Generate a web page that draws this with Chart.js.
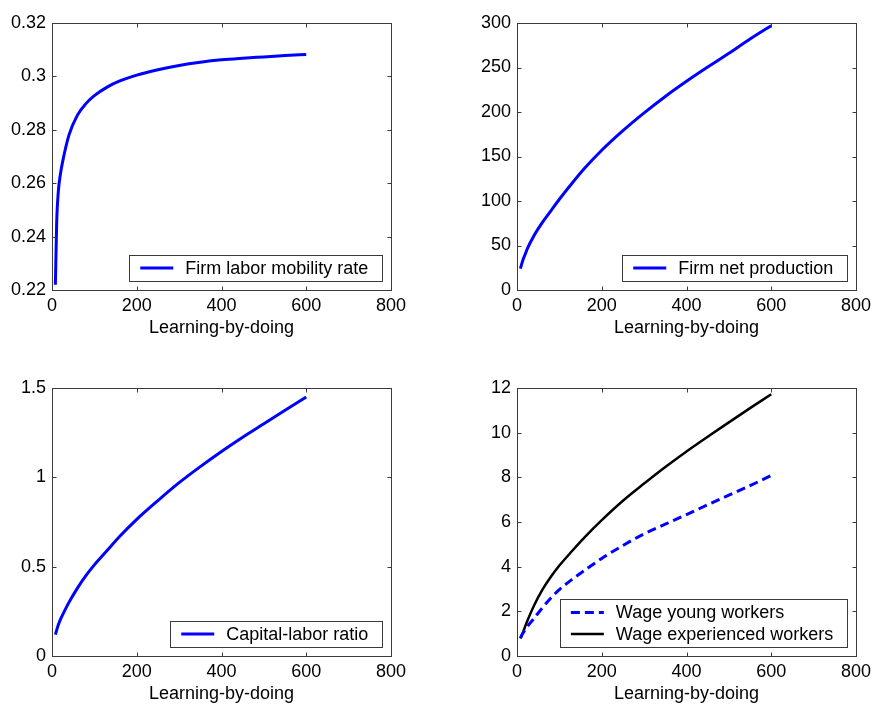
<!DOCTYPE html>
<html>
<head>
<meta charset="utf-8">
<script src="https://cdn.jsdelivr.net/npm/chart.js@4/dist/chart.umd.min.js"></script>
<style>
  html, body { margin: 0; padding: 0; background: #fff; overflow: hidden; }
  #wrap { position: relative; width: 873px; height: 709px; overflow: hidden; background: #fff; }
  #wrap canvas { position: absolute; }
</style>
</head>
<body>
<div id="wrap">
  <canvas id="mobility" width="436" height="345" style="left:0px;top:0px"></canvas>
  <canvas id="production" width="460" height="345" style="left:436px;top:0px"></canvas>
  <canvas id="ratio" width="436" height="364" style="left:0px;top:345px"></canvas>
  <canvas id="wages" width="460" height="364" style="left:436px;top:345px"></canvas>
</div>
<script>
// Learning-by-doing grid shared by all four panels
const learningByDoing   = [8, 11, 15, 20, 25, 40, 60, 80, 100, 130, 160, 200, 250, 300, 350, 400, 450, 500, 550, 600];

const mobilityRate      = [0.222, 0.245, 0.257, 0.2635, 0.268, 0.278, 0.2855, 0.2898, 0.2928, 0.296, 0.2983, 0.3005, 0.3025, 0.3041, 0.3053, 0.3062, 0.3068, 0.3073, 0.3078, 0.3082];
const netProduction     = [24, 29, 35, 41, 47, 61, 76, 89, 102, 120, 137, 157, 179, 199, 217.5, 234.5, 250.5, 266, 282, 297];
const capitalLaborRatio = [0.12, 0.145, 0.175, 0.205, 0.23, 0.30, 0.38, 0.45, 0.51, 0.59, 0.67, 0.765, 0.87, 0.97, 1.06, 1.145, 1.225, 1.30, 1.375, 1.45];
const wageYoung         = [0.8, 0.92, 1.05, 1.2, 1.33, 1.68, 2.16, 2.6, 2.97, 3.43, 3.84, 4.37, 4.95, 5.47, 5.9, 6.33, 6.77, 7.2, 7.63, 8.08];
const wageExperienced   = [0.78, 0.92, 1.1, 1.36, 1.6, 2.25, 2.97, 3.55, 4.05, 4.7, 5.32, 6.08, 6.95, 7.72, 8.46, 9.16, 9.82, 10.46, 11.1, 11.72];

// Axis tick values
const xTicks          = [0, 200, 400, 600, 800];
const mobilityTicks   = [0.22, 0.24, 0.26, 0.28, 0.3, 0.32];
const productionTicks = [0, 50, 100, 150, 200, 250, 300];
const ratioTicks      = [0, 0.5, 1, 1.5];
const wageTicks       = [0, 2, 4, 6, 8, 10, 12];

const FONT = "'Liberation Sans', Arial, Helvetica, sans-serif";
Chart.defaults.font.family = FONT;
Chart.defaults.font.size = 18;
Chart.defaults.color = '#000';

const FRAME = '#3a3a3a';

// Box around the plot area with inward tick marks on all four sides
const frameAndTicks = {
  id: 'frameAndTicks',
  afterDatasetsDraw(chart) {
    const { ctx, chartArea: a, scales: { x, y } } = chart;
    const L = Math.round(a.left) + 0.5, R = Math.round(a.right) + 0.5;
    const T = Math.round(a.top) + 0.5, B = Math.round(a.bottom) + 0.5;
    const len = 4;
    ctx.save();
    ctx.strokeStyle = FRAME;
    ctx.lineWidth = 1;
    ctx.setLineDash([]);
    ctx.strokeRect(L, T, R - L, B - T);
    ctx.beginPath();
    x.ticks.forEach(t => {
      const px = Math.round(x.getPixelForValue(t.value)) + 0.5;
      ctx.moveTo(px, B); ctx.lineTo(px, B - len);
      ctx.moveTo(px, T); ctx.lineTo(px, T + len);
    });
    y.ticks.forEach(t => {
      const py = Math.round(y.getPixelForValue(t.value)) + 0.5;
      ctx.moveTo(L, py); ctx.lineTo(L + len, py);
      ctx.moveTo(R, py); ctx.lineTo(R - len, py);
    });
    ctx.stroke();
    ctx.restore();
  }
};

// Boxed legend placed in the lower right corner of the plot area
const innerLegend = {
  id: 'innerLegend',
  afterDraw(chart) {
    const { ctx, chartArea: a } = chart;
    const sets = chart.data.datasets;
    ctx.save();
    ctx.font = '18px ' + FONT;
    const textW = Math.max(...sets.map(d => ctx.measureText(d.label).width));
    const rowH = 21.6, sampleL = 11, sampleLen = 33, textGap = 12, padR = 14;
    const w = sampleL + sampleLen + textGap + textW + padR;
    const h = sets.length * rowH + 4.4;
    const right = a.right - 8.7, bottom = a.bottom - 9;
    const left = right - w, top = bottom - h;
    ctx.fillStyle = '#fff';
    ctx.fillRect(left, top, w, h);
    ctx.strokeStyle = FRAME;
    ctx.lineWidth = 1;
    ctx.strokeRect(Math.round(left) + 0.5, Math.round(top) + 0.5, Math.round(w), Math.round(h));
    sets.forEach((d, i) => {
      const cy = top + 2.2 + rowH * (i + 0.5);
      ctx.strokeStyle = d.borderColor;
      ctx.lineWidth = d.borderWidth;
      ctx.setLineDash(d.borderDash || []);
      ctx.beginPath();
      ctx.moveTo(left + sampleL, cy);
      ctx.lineTo(left + sampleL + sampleLen, cy);
      ctx.stroke();
      ctx.setLineDash([]);
      ctx.fillStyle = '#000';
      ctx.textBaseline = 'middle';
      ctx.textAlign = 'left';
      ctx.fillText(d.label, left + sampleL + sampleLen + textGap, cy + 1);
    });
    ctx.restore();
  }
};

function series(label, values, color, width, dash) {
  return {
    label,
    data: learningByDoing.map((x, i) => ({ x, y: values[i] })),
    borderColor: color,
    backgroundColor: color,
    borderWidth: width,
    borderDash: dash || [],
    pointRadius: 0,
    cubicInterpolationMode: 'monotone',
    fill: false
  };
}

// canvasBox: [left, top, width, height] on the page; plotBox: [left, top, right, bottom] on the page
function panel(id, canvasBox, plotBox, datasets, yTicks) {
  const [cx, cy, cw, ch] = canvasBox;
  const [pl, pt, pr, pb] = plotBox;
  const XH = 49;
  const L = pl - cx, T = pt - cy, R = pr - cx, B = pb - cy;
  new Chart(document.getElementById(id), {
    type: 'line',
    data: { datasets },
    plugins: [frameAndTicks, innerLegend],
    options: {
      responsive: false,
      animation: false,
      devicePixelRatio: 1,
      events: [],
      layout: { padding: { left: 0, top: T, right: cw - R, bottom: ch - B - XH } },
      plugins: { legend: { display: false }, tooltip: { enabled: false }, title: { display: false } },
      scales: {
        x: {
          type: 'linear',
          min: xTicks[0],
          max: xTicks[xTicks.length - 1],
          grid: { display: false, drawTicks: false },
          border: { display: false },
          afterBuildTicks: s => { s.ticks = xTicks.map(v => ({ value: v })); },
          afterFit: s => { s.height = XH; },
          ticks: { autoSkip: false, maxRotation: 0, padding: 5, color: '#000', callback: v => String(v) },
          title: { display: true, text: 'Learning-by-doing', color: '#000', padding: { top: 0, bottom: 0 }, font: { size: 18 } }
        },
        y: {
          type: 'linear',
          min: yTicks[0],
          max: yTicks[yTicks.length - 1],
          grid: { display: false, drawTicks: false },
          border: { display: false },
          afterBuildTicks: s => { s.ticks = yTicks.map(v => ({ value: v })); },
          afterFit: s => { s.width = L; },
          ticks: { autoSkip: false, padding: 6, color: '#000', callback: v => String(v) }
        }
      }
    }
  });
}

const BLUE = '#0000ff';

panel('mobility', [0, 0, 436, 345], [52, 23, 391, 290],
  [series('Firm labor mobility rate', mobilityRate, BLUE, 3)], mobilityTicks);

panel('production', [436, 0, 460, 345], [517, 23, 856, 290],
  [series('Firm net production', netProduction, BLUE, 3)], productionTicks);

panel('ratio', [0, 345, 436, 364], [52, 388, 391, 656],
  [series('Capital-labor ratio', capitalLaborRatio, BLUE, 3)], ratioTicks);

panel('wages', [436, 345, 460, 364], [517, 388, 856, 656],
  [series('Wage young workers', wageYoung, BLUE, 3, [9, 5]),
   series('Wage experienced workers', wageExperienced, '#000', 2.5)], wageTicks);
</script>
</body>
</html>
